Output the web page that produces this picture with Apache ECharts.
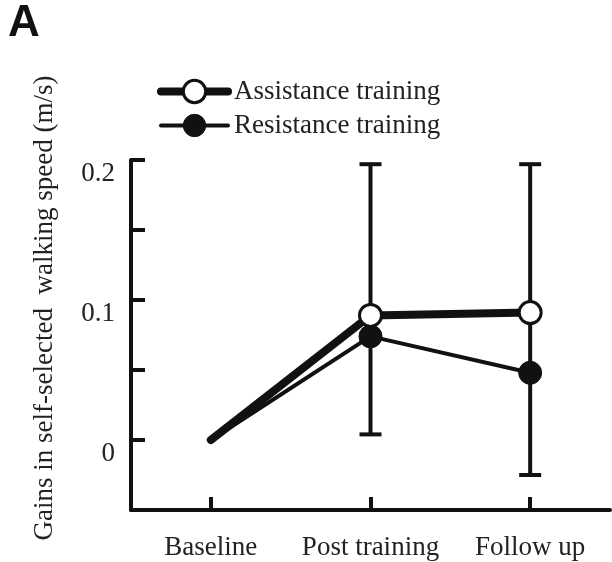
<!DOCTYPE html>
<html>
<head>
<meta charset="utf-8">
<script src="https://cdn.jsdelivr.net/npm/echarts@6/dist/echarts.min.js"></script>
<style>html,body{margin:0;padding:0;background:#fff}#c{width:612px;height:562px}</style>
</head>
<body>
<div id="c"></div>
<script>
const categories = ['Baseline', 'Post training', 'Follow up'];
const assistance = [0, 0.089, 0.091];
const resistance = [0, 0.074, 0.048];
const errLow = [null, 0.004, -0.025];
const errHigh = [null, 0.197, 0.197];
const yLabelValues = [0, 0.1, 0.2];
const seriesNames = ['Assistance training', 'Resistance training'];
const yTitle = 'Gains in self-selected  walking speed (m/s)';

const errData = categories.map((c, i) => errLow[i] == null ? null : [i, errLow[i], errHigh[i]]).filter(d => d);

const serif = 'Liberation Serif';
const chart = echarts.init(document.getElementById('c'));
chart.setOption({
  animation: false,
  backgroundColor: '#fff',
  graphic: [
    { type: 'text', left: 8, top: 2,
      style: { text: 'A', font: 'bold 44px "Liberation Sans"', fill: '#111' } },
    { type: 'text', x: 45, y: 308, rotation: Math.PI / 2,
      style: { text: yTitle, font: '27px "Liberation Serif"', fill: '#222', align: 'center', verticalAlign: 'middle' } }
  ],
  legend: {
    orient: 'vertical', left: 157, top: 78, itemGap: 7,
    itemWidth: 67, itemHeight: 28, padding: 0,
    data: [
      { name: seriesNames[0], lineStyle: { width: 8, color: '#111' }, itemStyle: { color: '#fff', borderColor: '#111', borderWidth: 3 } },
      { name: seriesNames[1], lineStyle: { width: 4, color: '#111' }, itemStyle: { color: '#111', borderColor: '#111', borderWidth: 1 } }
    ],
    textStyle: { fontFamily: serif, fontSize: 27, color: '#222', padding: [0, 0, 0, 1] }
  },
  grid: { left: 131, right: 2, top: 160, bottom: 52 },
  xAxis: {
    type: 'category', data: categories, boundaryGap: true,
    axisLine: { onZero: false, lineStyle: { color: '#111', width: 4 } },
    axisTick: { show: true, inside: true, alignWithLabel: true, interval: 0, length: 13, lineStyle: { color: '#111', width: 4 } },
    axisLabel: { fontFamily: serif, fontSize: 27, color: '#222', margin: 24, interval: 0, hideOverlap: false }
  },
  yAxis: {
    type: 'value', min: -0.05, max: 0.2, interval: 0.05,
    axisLine: { show: true, lineStyle: { color: '#111', width: 4 } },
    axisTick: { show: true, inside: true, length: 14, lineStyle: { color: '#111', width: 4 } },
    splitLine: { show: false },
    axisLabel: {
      fontFamily: serif, fontSize: 27, color: '#222', margin: 16,
      verticalAlign: 'top', lineHeight: 28,
      formatter: v => {
        const r = +v.toFixed(3);
        return yLabelValues.some(x => Math.abs(x - r) < 1e-6) ? String(r) : '';
      }
    }
  },
  series: [
    {
      type: 'custom', name: 'err', z: 1, silent: true,
      data: errData,
      renderItem: (params, api) => {
        const x = api.value(0);
        const lo = api.coord([x, api.value(1)]);
        const hi = api.coord([x, api.value(2)]);
        const w = 11;
        const st = { stroke: '#111', lineWidth: 4 };
        return {
          type: 'group', children: [
            { type: 'line', shape: { x1: lo[0], y1: lo[1], x2: hi[0], y2: hi[1] }, style: st },
            { type: 'line', shape: { x1: lo[0] - w, y1: lo[1], x2: lo[0] + w, y2: lo[1] }, style: st },
            { type: 'line', shape: { x1: hi[0] - w, y1: hi[1], x2: hi[0] + w, y2: hi[1] }, style: st }
          ]
        };
      }
    },
    {
      type: 'line', name: seriesNames[1], z: 2,
      data: resistance.map((v, i) => i === 0 ? { value: v, symbolSize: 0 } : v),
      symbol: 'circle', symbolSize: 23, showSymbol: true,
      lineStyle: { color: '#111', width: 4, cap: 'round' },
      itemStyle: { color: '#111', borderColor: '#111', borderWidth: 1 }
    },
    {
      type: 'line', name: seriesNames[0], z: 3,
      data: assistance.map((v, i) => i === 0 ? { value: v, symbolSize: 0 } : v),
      symbol: 'circle', symbolSize: 22, showSymbol: true,
      lineStyle: { color: '#111', width: 8, cap: 'round' },
      itemStyle: { color: '#fff', borderColor: '#111', borderWidth: 3 }
    }
  ]
});
</script>
</body>
</html>
